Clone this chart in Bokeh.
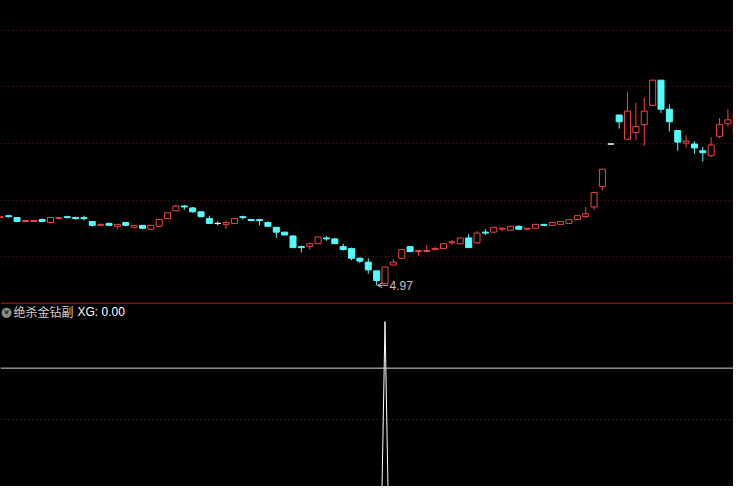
import numpy as np

from bokeh.embed import file_html
from bokeh.layouts import column
from bokeh.models import Arrow, ColumnDataSource, FixedTicker, Label, OpenHead, Span
from bokeh.plotting import figure
from bokeh.resources import INLINE

# daily bars
opens = [5.67, 5.69, 5.67, 5.63, 5.63, 5.65, 5.62, 5.66, 5.68, 5.67,
         5.67, 5.63, 5.59, 5.61, 5.58, 5.62, 5.57, 5.59, 5.55, 5.58,
         5.66, 5.74, 5.79, 5.77, 5.73, 5.66, 5.61, 5.60, 5.61, 5.68,
         5.65, 5.65, 5.62, 5.57, 5.52, 5.48, 5.37, 5.37, 5.40, 5.46,
         5.45, 5.37, 5.35, 5.25, 5.21, 5.12, 4.99, 5.18, 5.25, 5.37,
         5.32, 5.32, 5.34, 5.35, 5.41, 5.40, 5.46, 5.41, 5.52, 5.52,
         5.55, 5.54, 5.58, 5.55, 5.56, 5.60, 5.59, 5.60, 5.61, 5.65,
         5.68, 5.78, 5.99, 6.43, 6.73, 6.48, 6.55, 6.63, 6.83, 7.09,
         6.79, 6.57, 6.44, 6.43, 6.36, 6.31, 6.51, 6.64, 6.55]
highs = [5.69, 5.70, 5.67, 5.65, 5.64, 5.66, 5.67, 5.67, 5.69, 5.68,
         5.69, 5.63, 5.61, 5.62, 5.60, 5.62, 5.59, 5.59, 5.59, 5.65,
         5.72, 5.80, 5.80, 5.78, 5.73, 5.69, 5.63, 5.64, 5.66, 5.69,
         5.65, 5.66, 5.63, 5.57, 5.52, 5.49, 5.38, 5.41, 5.47, 5.48,
         5.46, 5.40, 5.36, 5.26, 5.25, 5.12, 5.16, 5.24, 5.34, 5.37,
         5.33, 5.39, 5.37, 5.40, 5.44, 5.46, 5.50, 5.53, 5.55, 5.57,
         5.57, 5.58, 5.59, 5.56, 5.60, 5.60, 5.62, 5.63, 5.65, 5.69,
         5.78, 5.93, 6.17, 6.43, 6.73, 6.97, 6.86, 6.91, 7.09, 7.09,
         6.84, 6.57, 6.52, 6.46, 6.40, 6.50, 6.70, 6.79, 6.77]
lows = [5.66, 5.67, 5.63, 5.63, 5.63, 5.63, 5.61, 5.65, 5.66, 5.65,
        5.64, 5.58, 5.59, 5.59, 5.55, 5.58, 5.56, 5.55, 5.55, 5.58,
        5.66, 5.74, 5.75, 5.72, 5.68, 5.61, 5.59, 5.55, 5.61, 5.65,
        5.63, 5.59, 5.58, 5.46, 5.49, 5.36, 5.31, 5.34, 5.40, 5.43,
        5.40, 5.33, 5.23, 5.20, 5.09, 4.97, 4.99, 5.18, 5.24, 5.31,
        5.28, 5.32, 5.33, 5.35, 5.39, 5.40, 5.36, 5.40, 5.49, 5.51,
        5.53, 5.54, 5.55, 5.54, 5.56, 5.58, 5.59, 5.60, 5.61, 5.65,
        5.67, 5.75, 5.95, 6.43, 6.59, 6.48, 6.47, 6.41, 6.83, 6.75,
        6.56, 6.36, 6.39, 6.33, 6.25, 6.30, 6.49, 6.61, 6.53]
closes = [5.68, 5.68, 5.63, 5.64, 5.64, 5.63, 5.67, 5.67, 5.67, 5.66,
          5.66, 5.59, 5.60, 5.59, 5.60, 5.59, 5.59, 5.56, 5.59, 5.65,
          5.72, 5.79, 5.78, 5.73, 5.68, 5.61, 5.61, 5.62, 5.66, 5.67,
          5.64, 5.64, 5.58, 5.52, 5.49, 5.36, 5.36, 5.40, 5.47, 5.45,
          5.40, 5.34, 5.25, 5.22, 5.13, 5.02, 5.16, 5.21, 5.34, 5.32,
          5.33, 5.33, 5.35, 5.40, 5.42, 5.46, 5.36, 5.51, 5.51, 5.57,
          5.56, 5.58, 5.55, 5.56, 5.60, 5.59, 5.62, 5.63, 5.65, 5.69,
          5.71, 5.93, 6.17, 6.43, 6.66, 6.77, 6.61, 6.77, 7.09, 6.79,
          6.66, 6.45, 6.46, 6.39, 6.34, 6.42, 6.63, 6.68, 6.75]

price_levels = [5.27, 5.85, 6.44, 7.02, 7.60]

# XG indicator panel
xg_level = 0.00
signal_bars = [45, 46, 47]
signal_values = [-9.0, 1.0, -9.0]
xg_levels = [-1.1]

UP = "#f04444"
DOWN = "#54fcfc"
FLAT = "#ffffff"

o = np.array(opens)
c = np.array(closes)
colors = np.where(c > o, UP, np.where(c < o, DOWN, FLAT))
fills = np.where(c > o, "black", colors)

src = ColumnDataSource(dict(
    x=np.arange(len(opens)),
    open=opens, high=highs, low=lows, close=closes,
    top=np.maximum(o, c), bottom=np.minimum(o, c),
    color=colors, fill=fills,
))

p = figure(width=733, height=302, x_range=(0.023, 87.67), y_range=(4.793, 7.913),
           x_axis_location=None, y_axis_location=None,
           toolbar_location=None, output_backend="svg",
           background_fill_color="black", border_fill_color="black",
           outline_line_color=None, min_border=0)
p.xgrid.visible = False
p.ygrid.ticker = FixedTicker(ticks=price_levels)
p.ygrid.grid_line_color = "#6e1c1c"
p.ygrid.grid_line_dash = "1 3"

p.segment("x", "high", "x", "low", source=src, line_color="color", line_width=1)
p.vbar("x", 0.72, "top", "bottom", source=src, fill_color="fill", line_color="color", line_width=1)

# lowest price marker
lo_i = int(np.argmin(lows))
lo = lows[lo_i]
p.add_layout(Arrow(end=OpenHead(size=5, line_color="#c0c0c0", line_width=1),
                   x_start=lo_i + 1.35, y_start=lo, x_end=lo_i + 0.1, y_end=lo,
                   line_color="#c0c0c0", line_width=1))
p.add_layout(Label(x=lo_i + 1.55, y=lo, text="%.2f" % lo, text_baseline="middle",
                   text_font="Liberation Sans", text_font_size="12px", text_color="#c0c0c0"))

# indicator panel
q = figure(width=733, height=184, x_range=p.x_range, y_range=(-2.542, 1.41),
           x_axis_location=None, y_axis_location=None,
           toolbar_location=None, output_backend="svg",
           background_fill_color="black", border_fill_color="black",
           outline_line_color=None, min_border=0)
q.xgrid.visible = False
q.ygrid.ticker = FixedTicker(ticks=xg_levels)
q.ygrid.grid_line_color = "#4e3434"
q.ygrid.grid_line_dash = "1 3"

# panel separator along the top edge
q.add_layout(Span(location=q.y_range.end, dimension="width", line_color="#7e1616", line_width=3))
q.add_layout(Span(location=xg_level, dimension="width", line_color="#d8d8d8", line_width=1))
q.line(signal_bars, signal_values, line_color="white", line_width=1)

q.add_layout(Label(x=6, y=175, x_units="screen", y_units="screen", text="\u25cf",
                   text_align="center", text_baseline="middle",
                   text_font="DejaVu Sans", text_font_size="13px", text_color="#8a8a8a"))
q.add_layout(Label(x=6, y=175, x_units="screen", y_units="screen", text="v",
                   text_align="center", text_baseline="middle", text_font_style="bold",
                   text_font="DejaVu Sans", text_font_size="7px", text_color="#1a1a1a"))
q.add_layout(Label(x=13, y=175, x_units="screen", y_units="screen", text="绝杀金钻副",
                   text_baseline="middle", text_font="Noto Sans CJK SC",
                   text_font_size="12px", text_color="#d0d0d0"))
q.add_layout(Label(x=77, y=175, x_units="screen", y_units="screen", text="XG: %.2f" % xg_level,
                   text_baseline="middle", text_font="Liberation Sans",
                   text_font_size="12px", text_color="#ffffff"))

page = column(p, q, spacing=0, styles={"background-color": "black"})
open("out.html", "w").write(file_html(page, INLINE))
